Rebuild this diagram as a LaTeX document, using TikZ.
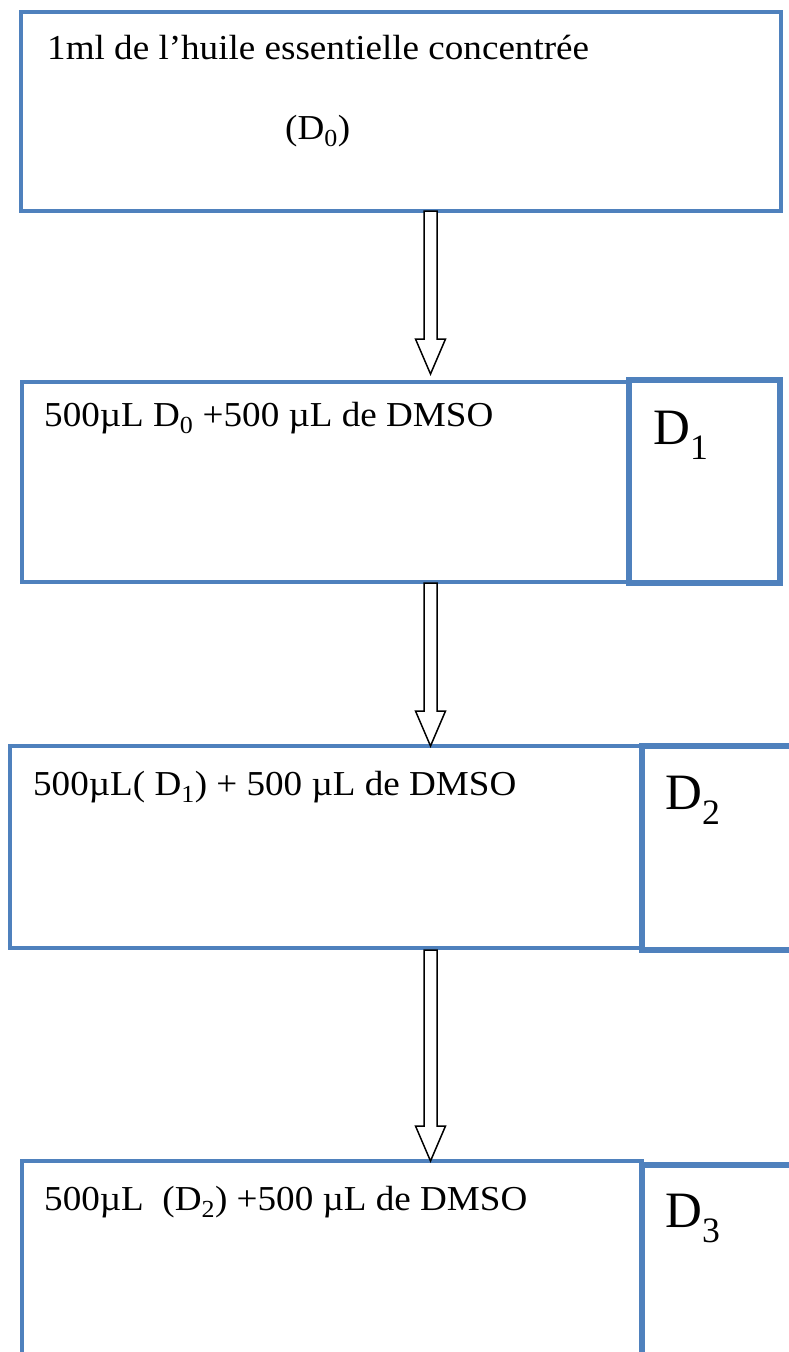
\documentclass[tikz,border=0pt]{standalone}
\usepackage{fontspec}
\setmainfont{Liberation Serif}
\usetikzlibrary{calc}
\definecolor{bleuword}{RGB}{79,129,189}
\newcommand\etire[1]{\scalebox{1.06}[1]{#1}}
\tikzset{
  boite/.style={draw=bleuword,line width=4pt,anchor=north west,inner sep=0pt,outer sep=0pt},
  etiq/.style={draw=bleuword,line width=#1,anchor=north west,inner sep=0pt,outer sep=0pt},
  texte/.style={anchor=base west,inner sep=0pt,font=\fontsize{35}{42}\selectfont},
  grand/.style={anchor=base west,inner sep=0pt,font=\fontsize{51}{60}\selectfont},
  fleche/.style={draw=black,fill=white,line width=1.5pt,line join=miter},
}
\newcommand\flechebloc[2]{%
  \draw[fleche] let \p1=(#1), \p2=(#2) in
    (\x1-6.5pt,\y1) -- (\x1+6.5pt,\y1) -- (\x1+6.5pt,\y2+35pt) -- (\x1+15pt,\y2+35pt)
    -- (\x1,\y2) -- (\x1-15pt,\y2+35pt) -- (\x1-6.5pt,\y2+35pt) -- cycle;}
\begin{document}
\begin{tikzpicture}[x=1pt,y=-1pt]
    \useasboundingbox (0,0) rectangle (788,1352);
    \node[boite,minimum width=760,minimum height=199] (b0) at (21,12)   {};
    \node[boite,minimum width=606,minimum height=200] (b1) at (22,382)  {};
    \node[etiq=6.5pt,minimum width=151,minimum height=203] (s1) at (629,380) {};
    \node[boite,minimum width=632,minimum height=202] (b2) at (10,746)  {};
    \node[etiq=5.5pt,minimum width=170,minimum height=204] (s2) at (642,746) {};
    \node[boite,minimum width=620,minimum height=250] (b3) at (22,1161) {};
    \node[etiq=5.5pt,minimum width=170,minimum height=250] (s3) at (642,1165) {};
    \node[texte] (t0)  at (47,59)   {\etire{1ml de l’huile essentielle concentrée}};
    \node[texte] (t0b) at (285,139) {\etire{(D\textsubscript{0})}};
    \node[texte] (t1)  at (44,426)  {\etire{500µL D\textsubscript{0} +500 µL de DMSO}};
    \node[texte] (t2)  at (33,795)  {\etire{500µL( D\textsubscript{1}) + 500 µL de DMSO}};
    \node[texte] (t3)  at (44,1210) {\etire{500µL\ \ (D\textsubscript{2}) +500 µL de DMSO}};
    \node[grand] (d1)  at (653,444)  {D\textsubscript{1}};
    \node[grand] (d2)  at (665,809)  {D\textsubscript{2}};
    \node[grand] (d3)  at (665,1227) {D\textsubscript{3}};
    \coordinate (axe) at (430.5,0);
    \coordinate (p1) at ($(b1.north -| axe)+(0,-8)$);
    \flechebloc{b0.south -| axe}{p1}
    \flechebloc{s1.south -| axe}{b2.north -| axe}
    \flechebloc{s2.south -| axe}{b3.north -| axe}
  \end{tikzpicture}
\end{document}
